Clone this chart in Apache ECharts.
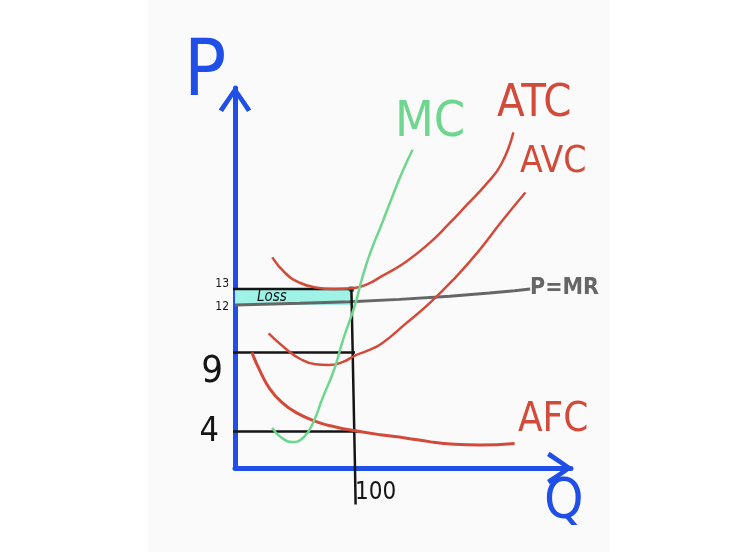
<!DOCTYPE html>
<html>
<head>
<meta charset="utf-8">
<script src="https://cdn.jsdelivr.net/npm/echarts@6/dist/echarts.min.js"></script>
<style>
html,body{margin:0;padding:0;background:#ffffff;}
#chart{width:744px;height:552px;}
</style>
</head>
<body>
<div id="chart"></div>
<script>
// ---- data (Q = quantity, P = price) ----
const mcQ  = [31, 38, 48, 57.5, 65, 73, 82.5, 90, 100, 106, 113, 122, 131, 140, 148];
const mcP  = [4.23, 3.66, 3.34, 3.66, 4.54, 6.12, 7.89, 9.79, 12.0, 13.7, 15.35, 17.05, 18.82, 20.5, 21.8];

const atcQ = [31, 42, 54, 67, 83, 98, 110, 122, 142, 162, 178, 193, 209, 222, 232];
const atcP = [15.0, 14.0, 13.4, 13.1, 13.0, 13.05, 13.3, 13.8, 14.7, 15.9, 17.1, 18.3, 19.6, 20.9, 22.9];

const avcQ = [28, 42, 54, 67, 78, 90, 100, 110, 122, 142, 162, 182, 202, 222, 242];
const avcP = [10.2, 9.25, 8.6, 8.25, 8.2, 8.4, 8.8, 9.1, 9.55, 10.8, 12.1, 13.6, 15.3, 17.25, 19.1];

const afcQ = [14, 21, 29, 39, 51, 67, 83, 100, 121, 142, 163, 183, 204, 233];
const afcP = [9.0, 7.8, 6.7, 5.85, 5.2, 4.65, 4.3, 4.05, 3.8, 3.6, 3.35, 3.2, 3.15, 3.25];

const mrQ  = [0, 54, 96, 137, 179, 212, 233, 246];
const mrP  = [12.0, 12.1, 12.2, 12.35, 12.55, 12.75, 12.9, 13.0];

const qStar = 100;               // output level
const priceTicks = [4, 9, 12, 13]; // labelled prices
const atcAtQ = 13, priceAtQ = 12, avcAtQ = 9, afcAtQ = 4;
const qTicks = [100];

const zip = (xs, ys) => xs.map((x, i) => [x, ys[i]]);

const BLUE = '#1f4fe6', RED = '#d24a3a', GREEN = '#6fd68f', GRAY = '#666666', BLACK = '#151515';
const HAND = "'Liberation Sans Narrow','DejaVu Sans Condensed','Liberation Sans',sans-serif";
const chevron = 'path://M50,0 L100,72 L87,80 L50,24 L13,80 L0,72 Z';

const chart = echarts.init(document.getElementById('chart'), null, {renderer: 'canvas'});

function refLine(points, color, width) {
  return {
    type: 'line', data: points, showSymbol: false, clip: false, silent: true,
    lineStyle: {color: color, width: width}, z: 3
  };
}

const option = {
  animation: false,
  backgroundColor: '#ffffff',
  grid: {left: 235, right: 173, top: 88, bottom: 84},
  xAxis: {
    type: 'value', min: 0, max: 280,
    splitLine: {show: false},
    axisTick: {show: false},
    axisLine: {
      show: true, onZero: false,
      lineStyle: {color: BLUE, width: 5, cap: 'round'},
      symbol: ['none', chevron], symbolSize: [34, 26], symbolOffset: [0, -11]
    },
    axisLabel: {
      show: true, customValues: qTicks, align: 'left', margin: 13,
      fontSize: 24, color: BLACK, fontFamily: HAND
    }
  },
  yAxis: {
    type: 'value', min: 1.7, max: 25.7,
    splitLine: {show: false},
    axisTick: {show: false},
    axisLine: {
      show: true, onZero: false,
      lineStyle: {color: BLUE, width: 5, cap: 'round'},
      symbol: ['none', chevron], symbolSize: [34, 26], symbolOffset: [0, -11]
    },
    axisLabel: {
      show: true, customValues: priceTicks, margin: 6,
      fontFamily: HAND, color: BLACK,
      formatter: function (v) {
        if (v === 13) return '{a|13}';
        if (v === 12) return '{b|12}';
        if (v === 9) return '{c|9}';
        return '{d|4}';
      },
      rich: {
        a: {fontSize: 12, fontFamily: HAND, color: BLACK, padding: [0, 0, 10, 0]},
        b: {fontSize: 12, fontFamily: HAND, color: BLACK, padding: [4, 0, 0, 0]},
        c: {fontSize: 38, fontFamily: HAND, color: BLACK, padding: [40, 6, 0, 0]},
        d: {fontSize: 34, fontFamily: HAND, color: BLACK, padding: [2, 10, 0, 0]}
      }
    }
  },
  graphic: [
    {type: 'rect', z: -10, silent: true, shape: {x: 148, y: 0, width: 462, height: 552}, style: {fill: '#fafafa'}},
    {type: 'text', left: 184, top: 36, style: {text: 'P', fill: BLUE, font: '78px ' + HAND}},
    {type: 'text', left: 544, top: 474, style: {text: 'Q', fill: BLUE, font: '56px ' + HAND}},
    {type: 'text', left: 395, top: 98, style: {text: 'MC', fill: GREEN, font: '50px ' + HAND}},
    {type: 'text', left: 497, top: 82, style: {text: 'ATC', fill: RED, font: '45px ' + HAND}},
    {type: 'text', left: 520, top: 144, style: {text: 'AVC', fill: RED, font: '37px ' + HAND}},
    {type: 'text', left: 518, top: 401, style: {text: 'AFC', fill: RED, font: '40px ' + HAND}},
    {type: 'text', left: 530, top: 277, style: {text: 'P=MR', fill: GRAY, font: 'bold 23px ' + HAND}}
  ],
  series: [
    {
      name: 'P=MR', type: 'line', data: zip(mrQ, mrP), showSymbol: false, clip: false,
      lineStyle: {color: GRAY, width: 3}, z: 2,
      markArea: {
        silent: true,
        itemStyle: {color: '#9ff2e6'},
        label: {show: true, position: 'insideLeft', distance: 22, fontSize: 15, fontFamily: HAND,
                fontStyle: 'italic', color: BLACK},
        data: [[{name: 'Loss', coord: [0, priceAtQ]}, {coord: [97, atcAtQ]}]]
      }
    },
    refLine([[-2, atcAtQ], [97, atcAtQ]], BLACK, 2.5),
    refLine([[-2, avcAtQ], [100, avcAtQ]], BLACK, 2.5),
    refLine([[-5, afcAtQ], [104, afcAtQ]], BLACK, 2.5),
    refLine([[97, atcAtQ], [100, 1.7], [100.5, -0.6]], BLACK, 2.5),
    {
      name: 'dot', type: 'scatter', data: [[97, atcAtQ]], symbol: 'rect', symbolSize: 5,
      itemStyle: {color: BLACK}, z: 4, silent: true
    },
    {name: 'AFC', type: 'line', smooth: true, data: zip(afcQ, afcP), showSymbol: false,
     lineStyle: {color: RED, width: 3}, z: 5},
    {name: 'AVC', type: 'line', smooth: true, data: zip(avcQ, avcP), showSymbol: false,
     lineStyle: {color: RED, width: 2.5}, z: 5},
    {name: 'ATC', type: 'line', smooth: true, data: zip(atcQ, atcP), showSymbol: false,
     lineStyle: {color: RED, width: 2.5}, z: 5},
    {name: 'MC', type: 'line', smooth: true, data: zip(mcQ, mcP), showSymbol: false,
     lineStyle: {color: GREEN, width: 2.5}, z: 6}
  ]
};
chart.setOption(option);
</script>
</body>
</html>
